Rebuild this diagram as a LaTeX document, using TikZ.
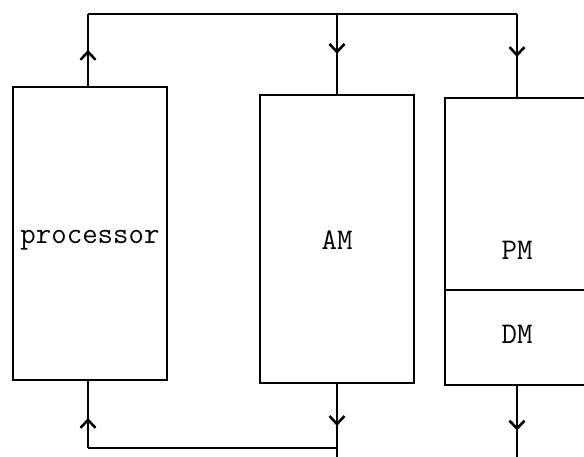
\documentclass[tikz,border=0pt]{standalone}
\usetikzlibrary{arrows.meta,decorations.markings}
\tikzset{
  x=1pt,y=-1pt,
  wire/.style={line width=2.6pt,line join=miter},
  box/.style={draw,line width=2.6pt,inner sep=0pt},
  lbl/.style={font=\ttfamily\fontsize{30}{33}\selectfont,inner sep=0pt},
  tipat/.style={postaction={decorate},decoration={markings,mark=at position #1 with {\arrow{Straight Barb[length=8pt,width=15pt,line width=2.6pt]}}}}
}
\begin{document}
\begin{tikzpicture}
\useasboundingbox (0,0) rectangle (584,456);
\clip (0,0) rectangle (584,456);
% boxes
\node[box,minimum width=154pt,minimum height=293pt] (proc) at (90,233.5) {};
\node[lbl] (proclbl) at (90,240) {processor};
\node[box,minimum width=154pt,minimum height=288pt] (am) at (337,239) {};
\node[lbl] (amlbl) at (337,240) {AM};
\node[box,minimum width=144pt,minimum height=192pt] (pm) at (517,194) {};
\node[lbl] (pmlbl) at (517,250) {PM};
\node[box,minimum width=144pt,minimum height=95pt] (dm) at (517,337.5) {};
\node[lbl] (dmlbl) at (517,334) {DM};
% bus coordinates
\coordinate (tl) at (88,14);
\coordinate (tm) at (337,14);
\coordinate (tr) at (517,14);
\coordinate (bl) at (88,448);
\coordinate (bm) at (337,448);
\coordinate (bmend) at (337,460);
\coordinate (brend) at (517,460);
% top connectors
\draw[wire,tipat=0.5] (proc.north -| tl) -- (tl);
\draw[wire] (tl) -- (tr);
\draw[wire,tipat=0.5] (tm) -- (am.north);
\draw[wire,tipat=0.52] (tr) -- (pm.north);
% bottom connectors
\draw[wire] (bm) -- (bl);
\draw[wire,tipat=0.45] (bl) -- (proc.south -| bl);
\draw[wire,tipat=0.55] (am.south) -- (bmend);
\draw[wire,tipat=0.6] (dm.south) -- (brend);
\end{tikzpicture}
\end{document}
